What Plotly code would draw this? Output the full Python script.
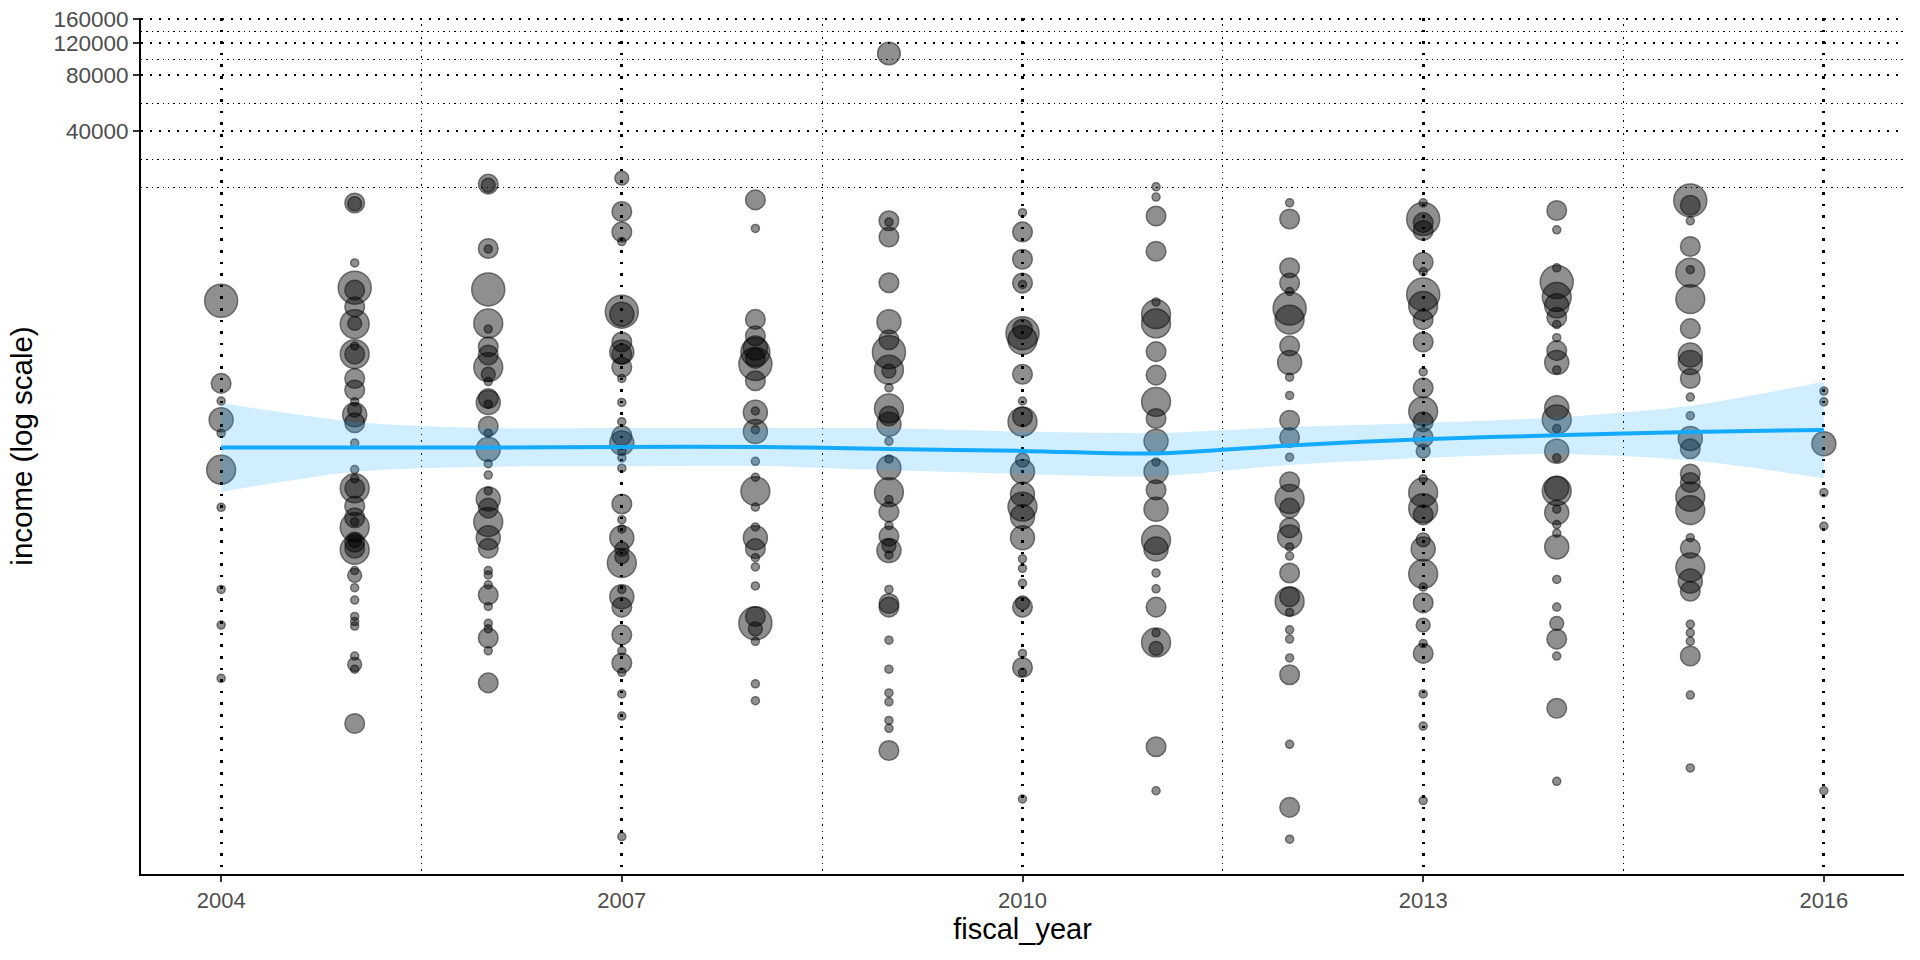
import plotly.graph_objects as go

# ---------------- data ----------------
years = [2004, 2005, 2006, 2007, 2008, 2009, 2010, 2011, 2012, 2013, 2014, 2015, 2016]

income_2004 = [4900, 1760, 1415, 1120, 948, 604, 379, 137, 88, 45.5]
n_2004 = [17, 6, 1, 9, 1, 13, 1, 1, 1, 1]

income_2005 = [16470, 16300, 7830, 5765, 5590, 4540, 3670, 3700, 2800, 2530, 2530, 1870, 1621, 1400,
               1193, 1266, 1080, 840, 605, 540, 480, 480, 385, 333, 296, 316, 246, 252, 224, 228, 173,
               163, 140, 120, 98, 92, 87, 60, 54, 51, 26]
n_2005 = [6, 3, 1, 17, 6, 6, 13, 3, 1, 13, 6, 6, 6, 1, 9, 3, 6, 1, 1, 1, 13, 6, 6, 6, 13, 1, 6, 3, 13,
          6, 1, 3, 1, 1, 1, 1, 1, 1, 3, 1, 6]

income_2006 = [20800, 20500, 9370, 9300, 5640, 3700, 3450, 2770, 2500, 2150, 1970, 1800, 1390, 1460,
               1360, 1035, 950, 777, 650, 565, 464, 420, 375, 316, 260, 228, 173, 164, 145, 128, 111,
               90, 84, 75, 64, 43]
n_2006 = [6, 3, 6, 1, 17, 13, 1, 6, 6, 13, 3, 1, 9, 6, 1, 6, 1, 9, 1, 1, 1, 9, 6, 13, 9, 6, 1, 1, 1,
          6, 1, 1, 1, 6, 1, 6]

income_2007 = [22400, 14800, 11500, 10200, 4280, 4150, 2940, 2600, 2530, 2150, 1870, 1390, 1095, 920,
               840, 760, 700, 615, 395, 325, 290, 260, 226, 190, 205, 137, 125, 110, 78, 64, 55, 49,
               37.5, 28.5, 6.4]
n_2007 = [3, 6, 6, 1, 17, 9, 6, 9, 6, 6, 1, 1, 1, 6, 9, 1, 1, 1, 6, 1, 1, 9, 3, 13, 3, 1, 9, 6, 6, 1,
          6, 1, 1, 1, 1]

income_2008 = [17100, 12000, 3890, 3170, 2600, 2730, 2240, 2400, 1820, 1230, 1250, 970, 990, 670, 550,
               463, 380, 297, 260, 227, 203, 181, 143, 90, 98, 84, 72, 42.5, 34.5]
n_2008 = [6, 1, 6, 6, 13, 9, 17, 6, 6, 9, 1, 9, 1, 1, 1, 13, 1, 1, 9, 6, 1, 1, 1, 17, 6, 3, 1, 1, 1]

income_2009 = [105000, 13200, 13000, 10800, 6130, 3780, 3020, 2590, 2085, 2050, 1665, 1290, 1175, 1060,
               860, 690, 618, 457, 417, 358, 302, 265, 222, 235, 210, 137, 115, 110, 73, 51, 38, 34,
               27, 24.5, 18.6]
n_2009 = [8, 6, 1, 6, 6, 9, 6, 17, 13, 3, 1, 13, 6, 9, 1, 1, 9, 13, 1, 6, 1, 6, 9, 3, 1, 1, 6, 6, 1,
          1, 1, 1, 1, 1, 6]

income_2010 = [14600, 11500, 8200, 6100, 6000, 3280, 3010, 3450, 1970, 1415, 1095, 1165, 680, 590, 445,
               382, 337, 260, 200, 178, 148, 110, 116, 62, 52, 49, 10.2]
n_2010 = [1, 6, 6, 6, 1, 17, 13, 6, 6, 1, 13, 6, 3, 9, 9, 13, 9, 9, 1, 1, 1, 6, 3, 1, 6, 1, 1]

income_2011 = [20100, 17700, 14000, 9050, 4830, 4150, 3700, 2610, 1950, 1400, 1140, 860, 665, 590, 470,
               370, 253, 226, 168, 138, 110, 71, 80, 66, 19.5, 11.3]
n_2011 = [1, 1, 6, 6, 1, 13, 13, 6, 6, 13, 6, 9, 1, 9, 6, 9, 13, 9, 1, 1, 6, 13, 1, 3, 6, 1]

income_2012 = [16500, 13500, 7370, 6100, 5500, 4450, 3880, 2800, 2280, 1900, 1515, 1115, 900, 705, 520,
               420, 375, 294, 262, 232, 207, 168, 118, 125, 103, 83, 74, 58.6, 47.6, 20.1, 9.2, 6.2]
n_2012 = [1, 6, 6, 6, 1, 17, 13, 6, 9, 1, 1, 6, 6, 1, 6, 13, 6, 6, 9, 1, 1, 6, 13, 6, 1, 1, 1, 1, 6,
          1, 6, 1]

income_2013 = [16500, 13500, 12900, 11700, 7900, 7020, 5300, 4600, 3880, 2940, 2030, 1665, 1245, 1095,
               900, 760, 540, 455, 375, 345, 253, 226, 166, 141, 116, 88, 70, 62, 37.5, 25.2, 10]
n_2013 = [1, 17, 6, 6, 6, 1, 17, 13, 6, 6, 1, 6, 13, 6, 6, 3, 1, 13, 13, 6, 3, 9, 13, 1, 6, 3, 1, 6,
          1, 1, 1]

income_2014 = [15000, 11800, 7370, 6180, 5140, 4600, 3990, 3650, 3100, 2640, 2280, 2080, 1300, 1125,
               1005, 760, 700, 480, 464, 355, 370, 306, 275, 232, 155, 110, 90, 74, 60, 31.4, 12.7]
n_2014 = [6, 1, 1, 17, 13, 9, 6, 1, 1, 6, 9, 1, 9, 13, 1, 9, 1, 9, 13, 9, 1, 1, 1, 9, 1, 1, 3, 6, 1,
          6, 1]

income_2015 = [17000, 16000, 13200, 9600, 6950, 7200, 5000, 3470, 2500, 2280, 1870, 1485, 1180, 890,
               783, 573, 515, 432, 366, 260, 228, 180, 152, 134, 89, 80, 72, 60, 37, 15]
n_2015 = [17, 6, 1, 6, 13, 1, 13, 6, 9, 9, 6, 1, 1, 9, 6, 6, 6, 13, 13, 1, 6, 13, 9, 6, 1, 1, 1, 6,
          1, 1]

income_2016 = [1600, 1400, 832, 455, 300, 11.3]
n_2016 = [1, 1, 9, 1, 1, 1]

# smoothed trend (loess) with its confidence band
smooth_fit = [795, 795, 795, 800, 801, 781, 762, 738, 816, 881, 925, 964, 989]
smooth_upper = [1381, 1092, 1013, 1013, 1013, 1010, 968, 952, 1026, 1078, 1154, 1334, 1797]
smooth_lower = [459, 588, 626, 630, 633, 599, 573, 557, 641, 699, 734, 678, 543]

x_ticks = [2004, 2007, 2010, 2013, 2016]
x_minor = [2005.5, 2008.5, 2011.5, 2014.5]
y_ticks = [40000, 80000, 120000, 160000]
y_ticktext = ["40000", "80000", "120000", "160000"]
y_minor = [20000, 28284, 56569, 97980, 138564]

# ---------------- assemble ----------------
income_by_year = [income_2004, income_2005, income_2006, income_2007, income_2008, income_2009,
                  income_2010, income_2011, income_2012, income_2013, income_2014, income_2015,
                  income_2016]
n_by_year = [n_2004, n_2005, n_2006, n_2007, n_2008, n_2009, n_2010, n_2011, n_2012, n_2013,
             n_2014, n_2015, n_2016]

px, py, ps = [], [], []
for yr, inc, nn in zip(years, income_by_year, n_by_year):
    px += [yr] * len(inc)
    py += inc
    ps += nn

FONT = "Liberation Sans, Arial, Helvetica, sans-serif"
LINE_COL = "#14AAFF"

fig = go.Figure()

fig.add_trace(go.Scatter(
    x=px, y=py, mode="markers",
    marker=dict(size=ps, sizemode="area", sizeref=1 / 32,
                color="rgba(0,0,0,0.62)",
                line=dict(color="rgba(0,0,0,0.78)", width=1.5)),
    showlegend=False, hoverinfo="x+y",
))

fig.add_trace(go.Scatter(
    x=years, y=smooth_upper, mode="lines",
    line=dict(width=0, shape="spline", smoothing=0.8),
    showlegend=False, hoverinfo="skip",
))
fig.add_trace(go.Scatter(
    x=years, y=smooth_lower, mode="lines",
    line=dict(width=0, shape="spline", smoothing=0.8),
    fill="tonexty", fillcolor="rgba(20,170,255,0.2)",
    showlegend=False, hoverinfo="skip",
))
fig.add_trace(go.Scatter(
    x=years, y=smooth_fit, mode="lines",
    line=dict(color=LINE_COL, width=4, shape="spline", smoothing=0.8),
    showlegend=False, hoverinfo="skip",
))

fig.update_layout(
    width=1920, height=960,
    margin=dict(l=141, r=16, t=18, b=86, autoexpand=False),
    paper_bgcolor="white", plot_bgcolor="white",
    font=dict(family=FONT, color="#4D4D4D"),
    xaxis=dict(
        automargin=False,
        range=[2003.4, 2016.6],
        tickmode="array", tickvals=x_ticks, ticktext=[str(v) for v in x_ticks],
        tickfont=dict(size=22, color="#4D4D4D"),
        ticks="outside", ticklen=6, tickwidth=2, tickcolor="#333333",
        showline=True, linecolor="black", linewidth=2,
        showgrid=True, gridcolor="black", gridwidth=2.6, griddash="2.6px,9px",
        minor=dict(tickmode="array", tickvals=x_minor, showgrid=True,
                   gridcolor="black", gridwidth=1.4, griddash="1.4px,5px", ticks=""),
        zeroline=False,
        title=dict(text="fiscal_year", font=dict(size=29, color="black"), standoff=6),
    ),
    yaxis=dict(
        automargin=False,
        type="log",
        range=[0.605, 5.212],
        tickmode="array", tickvals=y_ticks, ticktext=y_ticktext,
        tickfont=dict(size=22.5, color="#4D4D4D"),
        ticks="outside", ticklen=6, tickwidth=2, tickcolor="#333333",
        showline=True, linecolor="black", linewidth=2,
        showgrid=True, gridcolor="black", gridwidth=2.4, griddash="2.4px,6.6px",
        minor=dict(tickmode="array", tickvals=y_minor, showgrid=True,
                   gridcolor="black", gridwidth=1.4, griddash="1.4px,4px", ticks=""),
        zeroline=False,
        title=dict(text="income (log scale)", font=dict(size=29.5, color="black"), standoff=12),
    ),
)

fig.write_html(
    "out.html",
    config={"displayModeBar": False},
    post_script="document.body.style.margin='0';document.body.style.overflow='hidden';",
)
